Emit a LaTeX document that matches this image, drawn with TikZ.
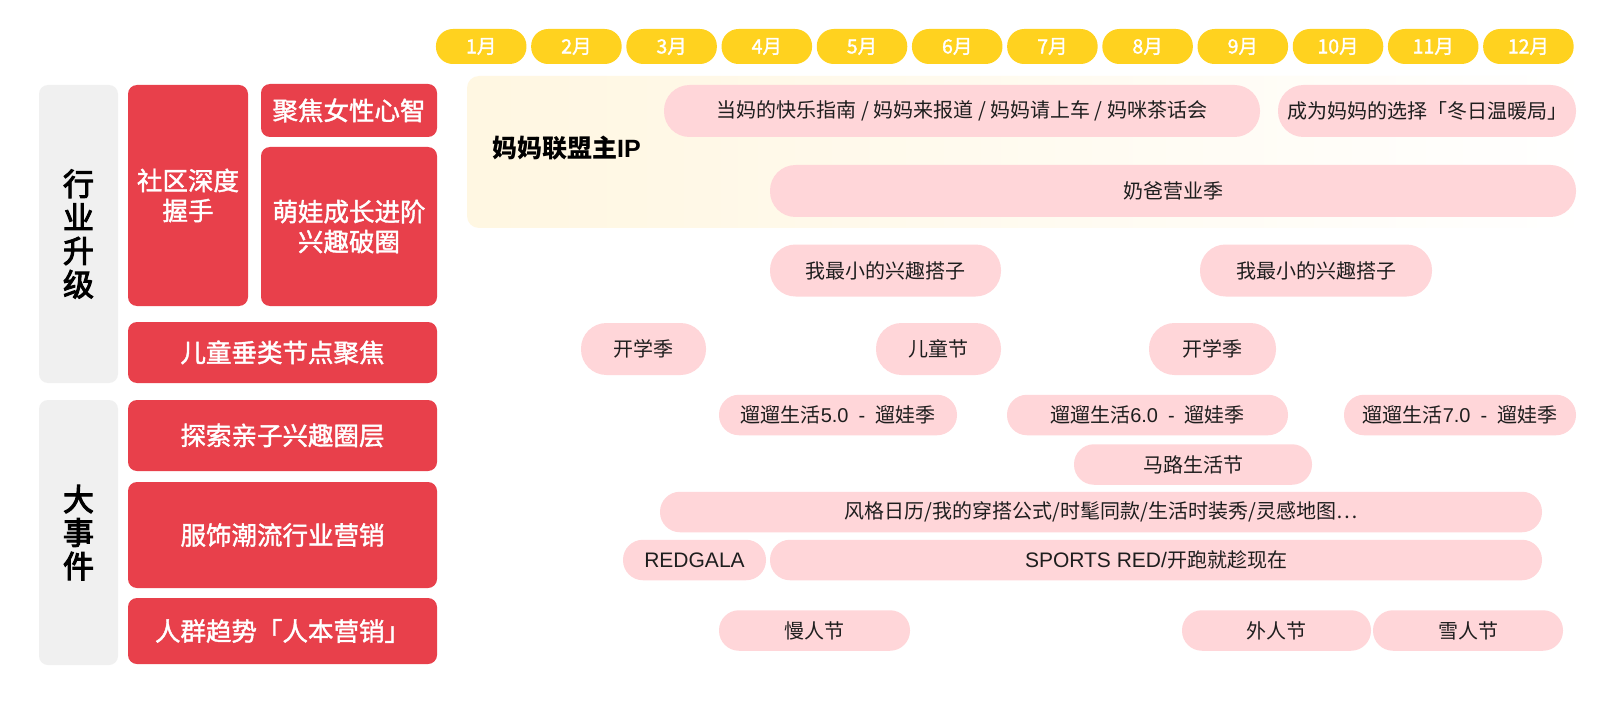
\documentclass[tikz,border=0pt]{standalone}
\usepackage{fontspec}
\setmainfont{Noto Sans CJK SC}
\newfontfamily\latinsf{Liberation Sans}
\newfontfamily\cjkmed{Noto Sans CJK SC}[FakeBold=1.6]
\newfontfamily\cjkheavy{Noto Sans CJK SC}[FakeBold=3.2]
\definecolor{mktRed}{HTML}{E8404B}
\definecolor{mktPink}{HTML}{FFD6D9}
\definecolor{mktYellow}{HTML}{FFD21F}
\definecolor{mktGray}{HTML}{F0F0F0}
\definecolor{mktCream}{HTML}{FFF4D8}
\definecolor{mktInk}{HTML}{1E1E1E}
\pgfdeclarehorizontalshading{mktfade}{100bp}{color(0bp)=(mktCream); color(30bp)=(mktCream!70!white); color(75bp)=(white); color(100bp)=(white)}
\tikzset{
  mkt month/.style={rectangle, rounded corners=17pt, fill=mktYellow, text=white, minimum width=90.5pt, minimum height=35pt, inner sep=0pt, font=\fontsize{19.5}{19.5}\selectfont\cjkmed},
  mkt side/.style={rectangle, rounded corners=9pt, fill=mktGray, text=black, minimum width=79pt, inner sep=0pt, align=center, font=\fontsize{31}{33.5}\selectfont\cjkheavy},
  mkt topic/.style={rectangle, rounded corners=9pt, fill=mktRed, text=white, inner sep=0pt, align=center, font=\fontsize{25.5}{30}\selectfont\cjkmed},
  mkt pill/.style={rectangle, fill=mktPink, text=mktInk, inner sep=0pt, font=\fontsize{20}{20}\selectfont},
  mkt tall/.style={mkt pill, minimum height=52pt, rounded corners=25.5pt},
  mkt slim/.style={mkt pill, minimum height=40.5pt, rounded corners=20pt},
  mkt ip/.style={text=black, inner sep=0pt, font=\fontsize{25}{25}\selectfont\bfseries},
}

\begin{document}
\begin{tikzpicture}[x=1pt, y=-1pt]
  \fill[white] (0,0) rectangle (1622,722);
  \useasboundingbox (0,0) rectangle (1622,722);

  % Months along the top
  \foreach \m in {1,...,12}
    \node[mkt month] (m\m) at ({481.2 + 95.2*(\m-1)}, 46.5) {\m 月};

  % Side labels
  \node[mkt side, minimum height=298pt] (hysj) at (78.5, 234) {行\\业\\升\\级};
  \node[mkt side, minimum height=265pt] (dsj) at (78.5, 532.5) {大\\事\\件};

  % Topic boxes
  \node[mkt topic, minimum width=120pt, minimum height=221pt] (sqws) at (188, 195.5) {社区深度\\握手};
  \node[mkt topic, minimum width=176pt, minimum height=53pt] (jjnx) at (349, 110.5) {聚焦女性心智};
  \node[mkt topic, minimum width=176pt, minimum height=159pt] (mwcz) at (349, 226.5) {萌娃成长进阶\\兴趣破圈};
  \node[mkt topic, minimum width=309pt, minimum height=61pt] (etcl) at (282.5, 352.5) {儿童垂类节点聚焦};
  \node[mkt topic, minimum width=309pt, minimum height=71pt] (tsqz) at (282.5, 435.5) {探索亲子兴趣圈层};
  \node[mkt topic, minimum width=309pt, minimum height=106pt] (fsyx) at (282.5, 535) {服饰潮流行业营销};
  \node[mkt topic, minimum width=309pt, minimum height=66pt] (rqqs) at (282.5, 631) {人群趋势「人本营销」};

  % Main IP band
  \path[shading=mktfade, rounded corners=12pt] (467,76) rectangle (1592,228);
  \node[mkt ip, anchor=west] (mmip) at (492, 148) {妈妈联盟主{\latinsf IP}};

  % Campaign pills
  \node[mkt tall, minimum width=596pt] (dmzn) at (962, 111) {当妈的快乐指南 / 妈妈来报道 / 妈妈请上车 / 妈咪茶话会};
  \node[mkt tall, minimum width=298pt] (cwxz) at (1427, 111) {成为妈妈的选择「冬日温暖局」};
  \node[mkt tall, minimum width=806pt] (nbyy) at (1173, 191) {奶爸营业季};
  \node[mkt tall, minimum width=231pt] (xqdz1) at (885.5, 270.5) {我最小的兴趣搭子};
  \node[mkt tall, minimum width=232pt] (xqdz2) at (1316, 270.5) {我最小的兴趣搭子};
  \node[mkt tall, minimum width=125pt] (kxj1) at (643.5, 349) {开学季};
  \node[mkt tall, minimum width=125pt] (etj) at (938.5, 349) {儿童节};
  \node[mkt tall, minimum width=127pt] (kxj2) at (1212.5, 349) {开学季};
  \node[mkt slim, minimum width=238pt] (llsh5) at (838, 415) {遛遛生活{\latinsf 5.0\enspace-\enspace}遛娃季};
  \node[mkt slim, minimum width=281pt] (llsh6) at (1147.5, 415) {遛遛生活{\latinsf 6.0\enspace-\enspace}遛娃季};
  \node[mkt slim, minimum width=232pt] (llsh7) at (1460, 415) {遛遛生活{\latinsf 7.0\enspace-\enspace}遛娃季};
  \node[mkt slim, minimum width=238pt] (mlsh) at (1193, 464.5) {马路生活节};
  \node[mkt slim, minimum width=882pt] (fgrl) at (1101, 512) {风格日历/我的穿搭公式/时髦同款/生活时装秀/灵感地图…};
  \node[mkt slim, minimum width=143pt] (rdgl) at (694.5, 560) {{\latinsf\fontsize{21}{21}\selectfont REDGALA}};
  \node[mkt slim, minimum width=772pt] (sprd) at (1156, 560) {{\latinsf\fontsize{21}{21}\selectfont SPORTS RED/}开跑就趁现在};
  \node[mkt slim, minimum width=191pt] (mrj) at (814.5, 630.5) {慢人节};
  \node[mkt slim, minimum width=189pt] (wrj) at (1276.5, 630.5) {外人节};
  \node[mkt slim, minimum width=190pt] (xrj) at (1468, 630.5) {雪人节};
\end{tikzpicture}
\end{document}
